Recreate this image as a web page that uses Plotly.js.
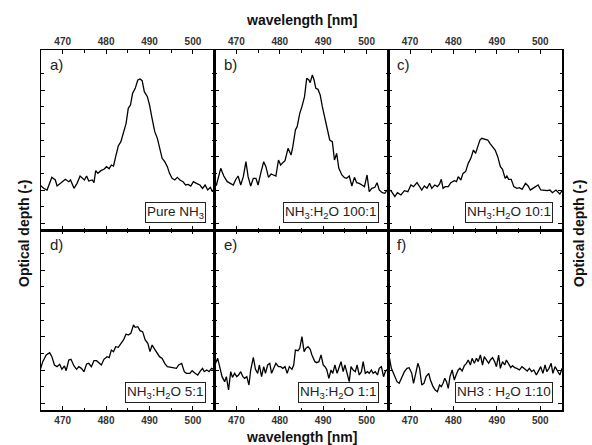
<!DOCTYPE html>
<html><head><meta charset="utf-8">
<script src="https://cdn.plot.ly/plotly-3.0.1.min.js"></script>
<style>html,body{margin:0;padding:0;background:#fff}#chart{width:592px;height:445px}</style>
</head><body><div id="chart"></div>
<script>
// Panel a) Pure NH3
const wlA=[464.8,465.6,466.4,467.5,468.3,468.7,469.5,470.6,471.4,471.8,472.6,473.3,474.0,474.5,475.0,475.5,476.0,476.8,477.2,477.6,478.1,478.8,479.5,480.1,480.7,481.2,481.7,482.2,482.8,483.4,484.0,484.6,485.1,485.6,486.1,486.7,487.3,487.8,488.3,488.8,489.5,490.0,490.5,491.2,491.8,492.3,492.9,493.5,494.1,494.6,495.2,495.8,496.4,497.0,497.7,498.3,498.9,499.5,500.1,500.8,501.6,502.2,502.8,503.4,504.0,504.5,505.1];
const odA=[1.35,1.25,1.20,1.58,1.50,1.32,1.40,1.52,1.45,1.50,1.25,1.40,1.62,1.55,1.50,1.62,1.47,1.50,1.42,1.78,1.70,1.78,1.82,1.90,1.84,1.95,1.92,2.20,2.52,2.65,2.90,3.20,3.65,3.75,4.10,4.25,4.50,4.53,4.48,4.15,4.00,3.75,3.40,2.95,2.75,2.45,2.15,2.05,1.90,1.70,1.55,1.50,1.58,1.50,1.45,1.35,1.37,1.32,1.45,1.40,1.35,1.25,1.35,1.20,1.28,1.15,1.28];
// Panel b) NH3:H2O 100:1
const wlB=[464.8,465.4,466.4,467.1,467.9,468.7,469.3,469.8,470.4,471.0,471.6,472.2,472.7,473.3,473.9,474.5,475.0,475.7,476.3,476.8,477.4,478.0,478.6,479.1,479.7,480.2,480.7,481.2,481.9,482.2,482.6,483.0,483.6,484.0,484.6,485.1,485.7,486.2,486.7,487.0,487.5,487.9,488.3,488.8,489.3,489.8,490.4,490.9,491.5,492.1,492.6,493.1,493.6,494.3,494.9,495.4,496.0,496.6,497.2,497.7,498.3,498.9,499.5,500.1,500.6,501.2,501.9,502.4,502.9,503.6,504.2,504.7,505.3];
const odB=[1.30,1.35,1.85,1.62,1.45,1.40,1.35,1.50,1.62,1.35,1.60,2.05,1.60,1.32,1.55,1.55,1.35,1.75,2.05,1.90,1.58,1.68,1.65,1.62,2.10,1.95,2.02,2.08,2.45,2.35,2.25,2.50,3.00,3.10,3.50,3.70,4.00,4.55,4.50,4.42,4.65,4.50,4.25,4.22,4.05,3.70,3.35,3.05,2.70,2.65,2.10,2.30,1.85,1.65,1.57,1.55,1.62,1.32,1.58,1.42,1.40,1.35,1.30,1.65,1.15,1.25,1.28,1.42,1.20,1.12,1.10,1.20,1.00];
// Panel c) NH3:H2O 10:1
const wlC=[464.8,465.6,466.5,467.1,467.9,468.7,469.5,470.2,470.8,471.6,472.2,472.7,473.3,473.9,474.5,475.0,475.7,476.3,476.8,477.2,477.6,478.1,478.8,479.4,480.2,480.7,481.1,481.7,482.2,482.8,483.4,484.0,484.6,485.1,485.6,486.1,486.5,487.3,487.9,488.4,489.0,489.6,490.2,490.8,491.3,491.9,492.3,492.7,493.3,493.9,494.6,495.2,495.8,496.6,497.2,497.7,498.3,498.9,499.5,500.1,500.8,501.6,502.2,502.8,503.6,504.5,505.1];
const odC=[1.20,1.18,1.00,1.12,1.05,1.18,1.15,1.35,1.30,1.42,1.30,1.20,1.32,1.25,1.40,1.25,1.35,1.30,1.38,1.52,1.25,1.30,1.30,1.42,1.48,1.45,1.60,1.50,1.70,1.75,2.00,2.15,2.40,2.30,2.50,2.70,2.75,2.72,2.70,2.60,2.48,2.40,2.20,1.90,1.82,1.55,1.62,1.52,1.52,1.30,1.25,1.27,1.22,1.40,1.32,1.20,1.25,1.30,1.35,1.20,1.18,1.18,1.20,1.12,1.20,1.08,1.20];
// Panel d) NH3:H2O 5:1
const wlD=[464.8,465.4,466.2,467.0,467.5,468.1,468.7,469.3,469.8,470.4,470.8,471.4,471.9,472.6,473.2,473.7,474.3,474.9,475.5,476.0,476.6,477.2,477.8,478.4,478.9,479.5,480.2,480.7,481.2,481.7,482.2,482.8,483.4,484.0,484.6,485.1,485.7,486.3,486.7,487.3,487.8,488.4,489.0,489.6,490.1,490.6,491.2,491.8,492.3,492.9,493.5,494.1,494.9,495.4,496.2,496.7,497.4,498.0,498.5,499.3,499.8,500.5,501.1,501.6,502.2,502.6,503.2,503.7,504.3,505.0];
const odD=[1.20,1.45,1.65,1.72,1.60,1.35,1.30,1.37,1.22,1.32,1.18,1.50,1.52,1.32,1.22,1.30,1.25,1.15,1.38,1.40,1.30,1.48,1.48,1.42,1.35,1.52,1.60,1.57,1.80,1.75,1.90,1.88,2.00,2.10,2.28,2.25,2.30,2.55,2.48,2.50,2.38,2.35,2.10,2.00,1.75,1.95,1.82,1.70,1.60,1.55,1.40,1.30,1.28,1.28,1.25,1.35,1.40,1.15,1.10,1.10,1.18,1.10,1.05,1.15,1.25,1.15,1.20,1.15,1.25,1.20];
// Panel e) NH3:H2O 1:1
const wlE=[464.8,465.2,465.7,466.2,466.7,467.3,467.7,468.2,468.7,469.1,469.6,470.1,470.5,471.0,471.5,471.9,472.4,472.9,473.3,473.9,474.4,474.9,475.3,475.8,476.3,476.7,477.2,477.7,478.1,478.6,479.1,479.7,480.2,480.7,481.2,481.7,482.2,482.8,483.2,483.6,484.2,484.6,485.1,485.6,486.0,486.5,487.0,487.4,488.1,488.5,489.0,489.5,490.0,490.4,490.8,491.3,491.8,492.2,492.7,493.2,493.6,494.1,494.6,495.0,495.5,496.0,496.4,496.9,497.4,497.8,498.3,498.8,499.2,499.7,500.2,500.6,501.1,501.5,502.0,502.5,502.9,503.4,503.9,504.3,504.8,505.3];
const odE=[1.20,1.40,1.55,1.30,1.00,0.85,1.00,0.60,1.15,0.98,1.10,1.00,1.05,1.15,1.00,0.95,1.00,0.75,1.20,1.58,1.22,1.10,1.35,1.00,1.30,1.10,1.35,1.40,1.10,1.25,1.40,1.30,1.30,1.25,1.30,1.10,1.30,1.22,1.35,1.80,1.78,1.85,2.20,1.75,1.85,1.90,1.82,1.65,1.45,1.42,1.45,1.65,1.35,1.30,1.22,0.95,1.20,1.10,1.35,1.10,1.25,1.45,1.15,1.35,1.10,0.85,1.30,1.20,1.15,1.35,1.05,1.15,1.45,1.10,1.15,1.10,1.20,1.10,1.15,1.05,1.25,1.30,1.00,1.15,1.22,1.15];
// Panel f) NH3 : H2O 1:10
const wlF=[464.8,465.2,465.7,466.4,467.0,467.5,468.1,468.7,469.3,469.8,470.4,470.8,471.4,471.8,472.2,472.7,473.2,473.7,474.3,474.7,475.3,475.8,476.3,476.8,477.2,477.6,478.0,478.4,478.8,479.2,479.7,480.2,480.6,481.1,481.5,482.0,482.5,483.0,483.4,483.9,484.3,484.8,485.3,485.7,486.2,486.7,487.1,487.6,488.1,488.5,489.0,489.5,489.9,490.4,490.8,491.3,491.8,492.2,492.7,493.2,493.6,494.1,494.6,495.2,495.8,496.4,497.0,497.5,498.0,498.5,499.1,499.5,500.1,500.6,501.1,501.5,502.0,502.5,502.9,503.4,503.9,504.5,505.0,505.5];
const odF=[1.70,1.60,1.25,1.00,0.85,0.80,1.00,1.15,1.25,1.27,1.10,0.80,1.15,1.40,1.25,0.75,0.80,1.00,1.10,0.90,0.70,0.60,0.55,0.75,0.70,0.80,0.95,0.85,0.65,1.00,1.20,0.90,1.05,1.20,1.25,1.17,1.33,1.40,1.50,1.35,1.55,1.40,1.55,1.45,1.65,1.35,1.60,1.50,1.40,1.50,1.57,1.45,1.30,1.65,1.25,1.45,1.35,1.50,1.37,1.27,1.33,1.27,1.25,1.20,1.30,1.23,1.17,1.25,1.15,1.20,1.05,1.15,1.30,1.10,1.35,1.15,1.25,1.40,1.10,1.30,1.17,1.05,1.25,1.10];

const panelLetters=['a)','b)','c)','d)','e)','f)'];
const mixLabels=['Pure NH<sub>3</sub>','NH<sub>3</sub>:H<sub>2</sub>O 100:1','NH<sub>3</sub>:H<sub>2</sub>O 10:1','NH<sub>3</sub>:H<sub>2</sub>O 5:1','NH<sub>3</sub>:H<sub>2</sub>O 1:1','NH3 : H<sub>2</sub>O 1:10'];
const xTicks=[470,480,490,500];
const xMinorTicks=[475,485,495];
const yTicks=[0.2,1.2,2.2,3.2,4.2];
const yMinorTicks=[0.7,1.7,2.7,3.7,4.7];
const xTitle='wavelength [nm]';
const yTitle='Optical depth (-)';

const wls=[wlA,wlB,wlC,wlD,wlE,wlF];
const ods=[odA,odB,odC,odD,odE,odF];

const FONT='"Liberation Sans", Arial, sans-serif';
const traces=[];
const layout={
  width:592,height:445,
  margin:{l:41,r:30,t:50,b:35},
  paper_bgcolor:'#fff',plot_bgcolor:'#fff',
  showlegend:false,
  font:{family:FONT,color:'#000'},
  annotations:[]
};
for(let i=0;i<6;i++){
  const col=i%3,row=Math.floor(i/3);
  const sx=i===0?'':String(i+1);
  traces.push({x:wls[i],y:ods[i],type:'scatter',mode:'lines',
    line:{color:'#000',width:1.3},xaxis:'x'+sx,yaxis:'y'+sx,hoverinfo:'skip'});
  layout['xaxis'+sx]={
    domain:[col/3,(col+1)/3],anchor:'y'+sx,range:[465,505],
    side:row===0?'top':'bottom',
    tickmode:'array',tickvals:xTicks,ticktext:xTicks.map(String),
    ticks:'inside',ticklen:4,tickwidth:1,tickcolor:'#000',
    minor:{tickmode:'array',tickvals:xMinorTicks,ticks:'inside',ticklen:2.5,tickwidth:1,tickcolor:'#000'},
    mirror:'allticks',showline:true,linecolor:'#000',linewidth:1.5,
    showgrid:false,zeroline:false,
    tickfont:{family:FONT,size:10,weight:'bold',color:'#333'}
  };
  layout['yaxis'+sx]={
    domain:row===0?[0.5,1]:[0,0.5],anchor:'x'+sx,range:[0,5.4],
    tickmode:'array',tickvals:yTicks,showticklabels:false,
    ticks:'inside',ticklen:4,tickwidth:1,tickcolor:'#000',
    minor:{tickmode:'array',tickvals:yMinorTicks,ticks:'inside',ticklen:2.5,tickwidth:1,tickcolor:'#000'},
    mirror:'allticks',showline:true,linecolor:'#000',linewidth:1.5,
    showgrid:false,zeroline:false
  };
  layout.annotations.push({text:panelLetters[i],xref:'x'+sx+' domain',yref:'y'+sx+' domain',
    x:0,y:1,xanchor:'left',yanchor:'top',xshift:7,yshift:-4,showarrow:false,
    font:{family:FONT,size:15,color:'#222'}});
  layout.annotations.push({text:mixLabels[i],xref:'x'+sx+' domain',yref:'y'+sx+' domain',
    x:1,y:0,xanchor:'right',yanchor:'bottom',xshift:-9,yshift:7,showarrow:false,
    bordercolor:'#222',borderwidth:1,borderpad:1,bgcolor:'#fff',
    font:{family:FONT,size:13.5,color:'#222'}});
}
layout.annotations.push({text:'<b>'+xTitle+'</b>',xref:'paper',yref:'paper',x:0.5,y:1,yshift:30,
  xanchor:'center',yanchor:'middle',showarrow:false,font:{family:FONT,size:14,color:'#111'}});
layout.annotations.push({text:'<b>'+xTitle+'</b>',xref:'paper',yref:'paper',x:0.5,y:0,yshift:-27,
  xanchor:'center',yanchor:'middle',showarrow:false,font:{family:FONT,size:14,color:'#111'}});
layout.annotations.push({text:'<b>'+yTitle+'</b>',xref:'paper',yref:'paper',x:0,y:0.5,xshift:-17,yshift:-4,
  xanchor:'center',yanchor:'middle',textangle:-90,showarrow:false,font:{family:FONT,size:14,color:'#111'}});
layout.annotations.push({text:'<b>'+yTitle+'</b>',xref:'paper',yref:'paper',x:1,y:0.5,xshift:17,yshift:-4,
  xanchor:'center',yanchor:'middle',textangle:-90,showarrow:false,font:{family:FONT,size:14,color:'#111'}});

Plotly.newPlot('chart',traces,layout,{staticPlot:true,displayModeBar:false});
</script>
</body></html>
